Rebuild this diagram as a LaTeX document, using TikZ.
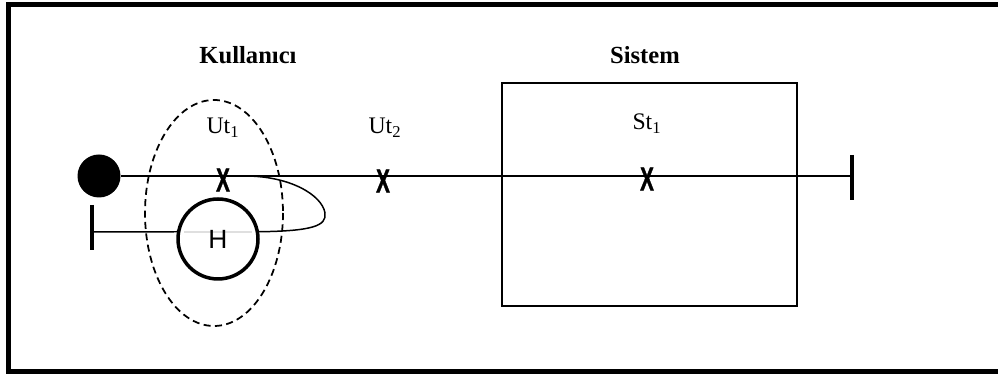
\documentclass[tikz,border=0pt]{standalone}
\usepackage{fontspec}
\setmainfont{Liberation Serif}
\newfontfamily\xfont{Liberation Sans}
\newfontfamily\xbold{Liberation Sans Bold}[FakeBold=1.5]
\begin{document}
\begin{tikzpicture}[x=0.02cm,y=-0.02cm,
  lbl/.style={font=\fontsize{13.5}{15}\selectfont},
  head/.style={font=\fontsize{14}{16}\selectfont\bfseries},
  cross/.style={font=\xbold\fontsize{19}{19}\selectfont,xscale=0.62,inner sep=0pt},
  bar/.style={line width=2.8pt},
  wire/.style={line width=0.85pt}]

\def\L{176}

\useasboundingbox (0,0) rectangle (998,377);

% Frame
\draw[line width=2.8pt] (8.5,4.5) rectangle (1005,371.5);

% -------- Kullanici side --------
\node[head] (kul) at (248,55) {Kullanıcı};
\draw[dash pattern=on 4pt off 2.5pt,line width=1pt] (214,213) ellipse [x radius=69,y radius=113];
\node[lbl] (ut1) at (223,128) {Ut\textsubscript{1}};

\node[circle,fill=black,minimum size=0.86cm,inner sep=0pt] (start) at (99,\L) {};

% -------- Sistem side --------
\node[head] (sis) at (645,55) {Sistem};
\node[draw,wire,minimum width=5.9cm,minimum height=4.46cm,inner sep=0pt] (sys) at (649.5,194.5) {};
\node[lbl] (st1) at (647,124) {St\textsubscript{1}};
\node[lbl] (ut2) at (385,128) {Ut\textsubscript{2}};

% ---- Main line ----
\coordinate (rend) at (852,\L);
\coordinate (back) at (245,\L);
\draw[wire] (start) -- (rend);
\draw[bar] (852,155) -- (852,200);

% cross marks
\node[cross] (x1) at (223,180) {X};
\node[cross] (x2) at (383,181) {X};
\node[cross] (x3) at (647,179) {X};

% ---- Return line ----
\coordinate (lend) at (92,232);
\draw[bar] (92,205) -- (92,250);
\draw[gray!25,line width=0.6pt] (184,232) -- (252,232);
\node[circle,draw,line width=2pt,minimum size=1.6cm,inner sep=0pt,font=\xfont\fontsize{15}{17}\selectfont] (H) at (218,239) {H};
\draw[wire] (lend) -- (H.170);
\draw[wire] (H.10) .. controls (312,231) and (327,226) .. (325,213)
      .. controls (322,195) and (290,176) .. (back);

\end{tikzpicture}
\end{document}
